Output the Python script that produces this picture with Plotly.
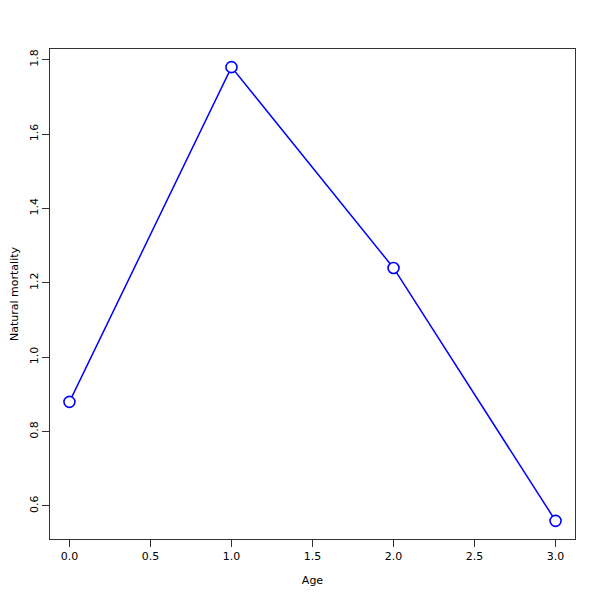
import plotly.graph_objects as go

age = [0, 1, 2, 3]
mortality = [0.88, 1.78, 1.24, 0.56]
x_ticks = [0.0, 0.5, 1.0, 1.5, 2.0, 2.5, 3.0]
x_tick_labels = ["0.0", "0.5", "1.0", "1.5", "2.0", "2.5", "3.0"]
y_ticks = [0.6, 0.8, 1.0, 1.2, 1.4, 1.6, 1.8]
y_tick_labels = ["0.6", "0.8", "1.0", "1.2", "1.4", "1.6", "1.8"]

fig = go.Figure(go.Scatter(
    x=age, y=mortality, mode="lines+markers",
    line=dict(color="#0000ff", width=1.5),
    marker=dict(symbol="circle", size=11, color="white",
                line=dict(color="#0000ff", width=1.6)),
))

font = dict(family="DejaVu Sans", size=11, color="black")
xr = [-0.12, 3.12]
yr = [0.5112, 1.8288]
fig.update_layout(
    width=600, height=600,
    margin=dict(l=42, r=33, t=41, b=69),
    paper_bgcolor="white", plot_bgcolor="white",
    showlegend=False, font=font,
    xaxis=dict(range=xr, tickvals=x_ticks, ticktext=x_tick_labels,
               automargin=False,
               showgrid=False, zeroline=False, showline=True, mirror=True,
               linecolor="#333333", linewidth=1,
               ticks="outside", ticklen=7, tickcolor="#333333",
               title=dict(text="Age", font=font, standoff=14)),
    yaxis=dict(range=yr, tickvals=y_ticks, ticktext=y_tick_labels,
               tickangle=-90, automargin=False,
               showgrid=False, zeroline=False, showline=True, mirror=True,
               linecolor="#333333", linewidth=1,
               ticks="outside", ticklen=7, tickcolor="#333333",
               title=dict(text="Natural mortality", font=font, standoff=15)),
)
fig.write_html("out.html")
